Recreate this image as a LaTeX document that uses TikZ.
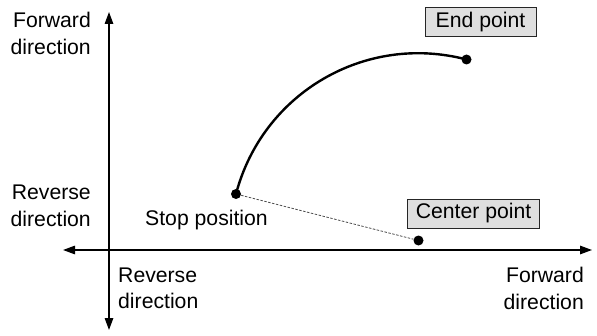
\documentclass[tikz,border=0pt]{standalone}
\usepackage{fontspec}
\setmainfont{Liberation Sans}
\usetikzlibrary{arrows.meta,positioning}

\begin{document}
\begin{tikzpicture}[x=1pt, y=1pt,
    axis/.style={line width=1.3pt, {Triangle[length=12pt,width=8.5pt]}-{Triangle[length=12pt,width=8.5pt]}},
    dot/.style={circle, fill=black, inner sep=0pt, minimum size=10pt},
    label/.style={font=\fontsize{21.2}{26.5}\selectfont, inner sep=0pt},
    tag/.style={label, draw=black!85, line width=0.9pt, fill=gray!25, minimum height=29pt}]
    \useasboundingbox (0, 0) rectangle (597, 335);

    % Axes
    \coordinate (left) at (63, 85);
    \coordinate (right) at (592, 85);
    \coordinate (top) at (109, 323);
    \coordinate (bottom) at (109, 5);
    \draw[axis] (left) -- (right);
    \draw[axis] (bottom) -- (top);

    % Points
    \node[dot] (stop) at (236, 141) {};
    \node[dot] (end) at (466.5, 275.5) {};
    \node[dot] (center) at (418.5, 94.5) {};

    % Arc and radius
    \draw[line width=2.4pt] (stop.center) to[bend left=45] (end.center);
    \draw[black!70, line width=0.8pt, dash pattern=on 2.5pt off 1.5pt] (stop) -- (center);

    % Labels
    \node[tag, minimum width=111pt] (endtag) at (480.5, 313) {End point};
    \node[tag, minimum width=132pt] (centertag) at (473.5, 121.5) {Center point};
    \node[label] (stoplabel) at (206.5, 115) {Stop position};
    \node[label, align=right, anchor=east] (yfwd) at (91, 301.5) {Forward\\direction};
    \node[label, align=right, anchor=east] (yrev) at (91, 129) {Reverse\\direction};
    \node[label, align=left, anchor=west] (xrev) at (118, 46.5) {Reverse\\direction};
    \node[label, align=right, anchor=east] (xfwd) at (584, 46.5) {Forward\\direction};
\end{tikzpicture}
\end{document}
